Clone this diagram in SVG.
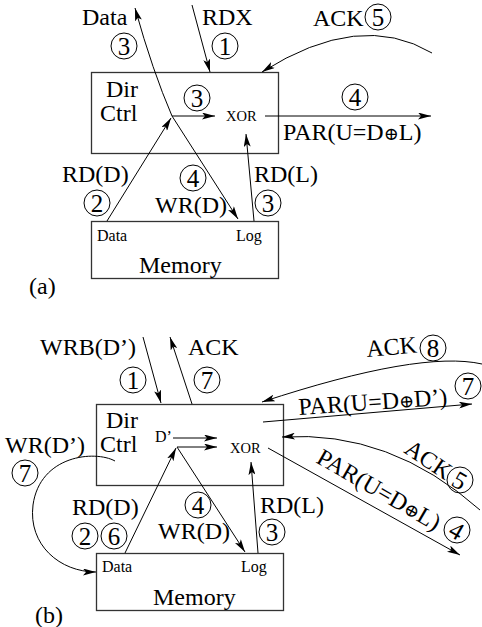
<svg xmlns="http://www.w3.org/2000/svg" width="482" height="627" viewBox="0 0 482 627">
<style>
text{font-family:"Liberation Serif","Times New Roman",serif;fill:#000}
.t{font-size:24px}
.s{font-size:16px}
.x{font-size:14.5px}
.n{font-size:25px;text-anchor:middle}
.o{font-size:18px;font-family:"DejaVu Serif",serif}
.box{fill:#fff;stroke:#333;stroke-width:1.3}
.c{fill:none;stroke:#000;stroke-width:1}
.ln{fill:none;stroke:#000;stroke-width:1}
.ar{marker-end:url(#ah)}
</style>
<defs>
<marker id="ah" viewBox="0 0 13 7" refX="13" refY="3.5" markerWidth="13" markerHeight="7" orient="auto" markerUnits="userSpaceOnUse">
<path d="M0,0 L13,3.5 L0,7 L3,3.5 z" fill="#000"/>
</marker>
</defs>
<rect width="482" height="627" fill="#fff"/>

<!-- ===== (a) ===== -->
<g id="a-dirctrl">
<rect class="box" x="91.5" y="72.5" width="187" height="81"/>
<text class="t" x="106" y="97">Dir</text>
<text class="t" x="100" y="121">Ctrl</text>
<text class="x" x="226" y="121">XOR</text>
<circle class="c" cx="197" cy="98" r="13"/><text class="n" x="197" y="107">3</text>
</g>
<g id="a-memory">
<rect class="box" x="91.5" y="221.5" width="187" height="57"/>
<text class="s" x="97" y="241">Data</text>
<text class="s" x="236" y="241">Log</text>
<text class="t" x="139" y="273">Memory</text>
</g>
<g id="a-labels">
<text class="t" x="82" y="25">Data</text>
<circle class="c" cx="124" cy="46" r="13"/><text class="n" x="124" y="55">3</text>
<text class="t" x="202" y="25">RDX</text>
<circle class="c" cx="225" cy="46" r="13"/><text class="n" x="225" y="55">1</text>
<text class="t" x="313" y="26">ACK</text>
<circle class="c" cx="378" cy="17" r="13"/><text class="n" x="378" y="26">5</text>
<circle class="c" cx="355" cy="97" r="13"/><text class="n" x="355" y="106">4</text>
<text class="t" x="283" y="140">PAR(U=D<tspan class="o">⊕</tspan>L)</text>
<text class="t" x="62" y="182">RD(D)</text>
<circle class="c" cx="97" cy="203" r="13"/><text class="n" x="97" y="212">2</text>
<circle class="c" cx="193" cy="178" r="13"/><text class="n" x="193" y="187">4</text>
<text class="t" x="155" y="213">WR(D)</text>
<text class="t" x="254" y="182">RD(L)</text>
<circle class="c" cx="268" cy="203" r="13"/><text class="n" x="268" y="212">3</text>
<text class="t" x="29" y="294">(a)</text>
</g>

<!-- ===== (b) ===== -->
<g id="b-dirctrl">
<rect class="box" x="96.5" y="404.5" width="187" height="81"/>
<text class="t" x="106" y="428">Dir</text>
<text class="t" x="100" y="452">Ctrl</text>
<text class="s" x="155" y="442">D’</text>
<text class="x" x="230" y="453">XOR</text>
</g>
<g id="b-memory">
<rect class="box" x="96.5" y="553.5" width="187" height="57"/>
<text class="s" x="102" y="572">Data</text>
<text class="s" x="241" y="572">Log</text>
<text class="t" x="153" y="605">Memory</text>
</g>
<g id="b-labels">
<text class="t" x="40" y="355">WRB(D’)</text>
<circle class="c" cx="133" cy="380" r="13"/><text class="n" x="133" y="389">1</text>
<text class="t" x="188" y="355">ACK</text>
<circle class="c" cx="207" cy="380" r="13"/><text class="n" x="207" y="389">7</text>
<text class="t" transform="translate(367,357) rotate(-5)">ACK</text>
<circle class="c" cx="433" cy="348" r="13"/><text class="n" x="433" y="357">8</text>
<text class="t" transform="translate(299,415) rotate(-4)">PAR(U=D<tspan class="o">⊕</tspan>D’)</text>
<circle class="c" cx="468" cy="386" r="13"/><text class="n" x="468" y="395">7</text>
<text class="t" transform="translate(403,452) rotate(34)">ACK</text>
<circle class="c" cx="460" cy="480" r="13"/><text class="n" transform="translate(460,480) rotate(30)" x="0" y="9">5</text>
<text class="t" transform="translate(315,462) rotate(30)">PAR(U=D<tspan class="o">⊕</tspan>L)</text>
<circle class="c" cx="457" cy="530" r="13"/><text class="n" transform="translate(457,530) rotate(30)" x="0" y="9">4</text>
<text class="t" x="5" y="453">WR(D’)</text>
<circle class="c" cx="25" cy="473" r="13"/><text class="n" x="25" y="482">7</text>
<text class="t" x="72" y="515">RD(D)</text>
<circle class="c" cx="85" cy="536" r="13"/><text class="n" x="85" y="545">2</text>
<circle class="c" cx="114" cy="536" r="13"/><text class="n" x="114" y="545">6</text>
<circle class="c" cx="198" cy="505" r="13"/><text class="n" x="198" y="514">4</text>
<text class="t" x="158" y="539">WR(D)</text>
<text class="t" x="260" y="513">RD(L)</text>
<circle class="c" cx="272" cy="532" r="13"/><text class="n" x="272" y="541">3</text>
<text class="t" x="35" y="623">(b)</text>
</g>

<g id="connectors">
<!-- (a) -->
<line class="ln ar" x1="192" y1="5" x2="210" y2="72"/>
<path class="ln ar" d="M172,116 Q152.6,71 135,8"/>
<line class="ln ar" x1="172" y1="116" x2="238" y2="219"/>
<line class="ln ar" x1="107" y1="221" x2="171" y2="118"/>
<line class="ln ar" x1="172" y1="116" x2="215" y2="116"/>
<line class="ln ar" x1="254" y1="221" x2="246" y2="134"/>
<line class="ln ar" x1="265" y1="116" x2="431" y2="116"/>
<path class="ln ar" d="M432,53 Q360,10 262,72"/>
<!-- (b) -->
<line class="ln ar" x1="143" y1="337" x2="161" y2="403"/>
<line class="ln ar" x1="192" y1="404" x2="170" y2="337"/>
<line class="ln ar" x1="173" y1="438" x2="217" y2="438"/>
<line class="ln ar" x1="177" y1="447" x2="217" y2="447"/>
<line class="ln ar" x1="125" y1="553" x2="176" y2="448"/>
<line class="ln ar" x1="177" y1="447" x2="245" y2="552"/>
<line class="ln ar" x1="258" y1="553" x2="251" y2="462"/>
<path class="ln ar" d="M115,461 C95,450 40,455 33,505 C28,545 60,572 96,572"/>
<path class="ln ar" d="M482,364 Q420,350 262,402"/>
<line class="ln ar" x1="263" y1="422" x2="472" y2="404"/>
<path class="ln ar" d="M480,510 Q390,430 282,437"/>
<line class="ln ar" x1="268" y1="448" x2="460" y2="555"/>
</g>
</svg>
